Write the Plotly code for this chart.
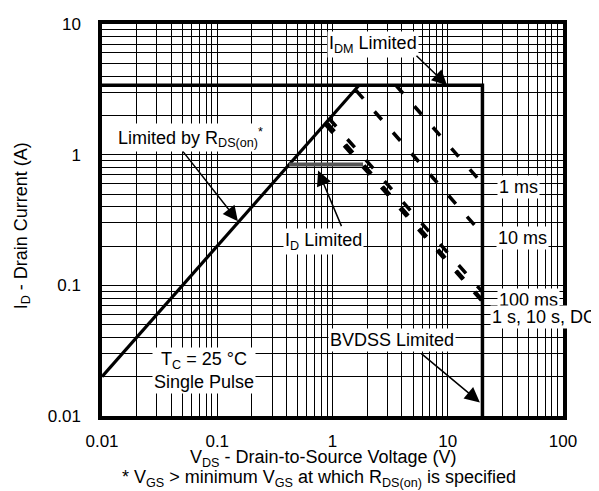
import math
import plotly.graph_objects as go

# ---- data ----
rds_x = [0.01, 1.7]
rds_y = [0.02, 3.4]

idm_x = [0.01, 20, 20]          # I_DM limit then BVDSS limit
idm_y = [3.4, 3.4, 0.01]

id_x = [0.42, 1.84]
id_y = [0.84, 0.84]

ms1_x = [3.55, 20]
ms1_y = [3.4, 0.6]
ms10_x = [1.6, 20]
ms10_y = [3.1, 0.247]
ms100_x = [0.93, 20]
ms100_y = [1.9, 0.089]
s1_x = [0.9, 20]
s1_y = [1.74, 0.077]
dc_x = [0.87, 20]
dc_y = [1.70, 0.075]

x_ticks = [0.01, 0.1, 1, 10, 100]
x_ticktext = ["0.01", "0.1", "1", "10", "100"]
y_ticks = [0.01, 0.1, 1, 10]
y_ticktext = ["0.01", "0.1", "1", "10"]

# arrow targets (data coords)
arrow_x = [9.85, 0.151, 0.75, 19.0]
arrow_y = [3.4, 0.31, 0.755, 0.0127]
arrow_dx = [-32, -56, 24, -60]
arrow_dy = [-31, -71, 57, -50]

FONT = "Liberation Sans, Arial, Helvetica, sans-serif"

fig = go.Figure()

solid = dict(color="black", width=3.2)
dash = dict(color="black", width=3.5, dash="11px,17px")

fig.add_trace(go.Scatter(x=rds_x, y=rds_y, mode="lines", line=solid))
fig.add_trace(go.Scatter(x=idm_x, y=idm_y, mode="lines", line=dict(color="black", width=3.5)))
fig.add_trace(go.Scatter(x=id_x, y=id_y, mode="lines", line=dict(color="#555555", width=4)))
for xs, ys in [(ms1_x, ms1_y), (ms10_x, ms10_y), (ms100_x, ms100_y), (s1_x, s1_y), (dc_x, dc_y)]:
    fig.add_trace(go.Scatter(x=xs, y=ys, mode="lines", line=dash))

# page body has an 8px margin, so compensate
OFF = 8
PL, PR, PT, PB = 102, 563, 15, 416   # plot area in page pixels
W, H = 599 - OFF, 491 - OFF
L = PL - OFF
T = PT - OFF
R = W + OFF - PR
B = H + OFF - PB
pw = PR - PL
ph = PB - PT


def px(xp, yp):
    return (xp - PL) / pw, (PB - yp) / ph


annots = []
labels = [
    ("I<sub>DM</sub> Limited", 373, 36),
    ("Limited by R<sub>DS(on)</sub><sup>*</sup>", 190, 131),
    ("I<sub>D</sub> Limited", 323, 237),
    ("1 ms", 518, 182),
    ("10 ms", 522, 234),
    ("100 ms", 528, 297),
    ("1 s, 10 s, DC", 544, 315),
    ("BVDSS Limited", 392, 338),
    ("T<sub>C</sub> = 25 °C<br>Single Pulse", 204, 369),
]
for txt, xp, yp in labels:
    xx, yy = px(xp, yp)
    annots.append(dict(text=txt, x=xx, y=yy, xref="paper", yref="paper",
                       showarrow=False, xanchor="center", yanchor="middle",
                       bgcolor="white", borderpad=1,
                       font=dict(family=FONT, size=18, color="black")))

for ax_, ay_, dx, dy in zip(arrow_x, arrow_y, arrow_dx, arrow_dy):
    annots.append(dict(text="", x=math.log10(ax_), y=math.log10(ay_), xref="x", yref="y",
                       showarrow=True, ax=dx, ay=dy, arrowhead=2, arrowsize=2,
                       arrowwidth=1.5, arrowcolor="black"))

xx, yy = px(22, 222)
annots.append(dict(text="I<sub>D</sub> - Drain Current (A)", x=xx, y=yy, xref="paper", yref="paper",
                   textangle=-90, showarrow=False, xanchor="center", yanchor="middle",
                   font=dict(family=FONT, size=18, color="black")))
xx, yy = px(323, 459)
annots.append(dict(text="V<sub>DS</sub> - Drain-to-Source Voltage (V)", x=xx, y=yy, xref="paper", yref="paper",
                   showarrow=False, xanchor="center", yanchor="middle",
                   font=dict(family=FONT, size=18, color="black")))
xx, yy = px(319, 480)
annots.append(dict(text="* V<sub>GS</sub> > minimum V<sub>GS</sub> at which R<sub>DS(on)</sub> is specified",
                   x=xx, y=yy, xref="paper", yref="paper",
                   showarrow=False, xanchor="center", yanchor="middle",
                   font=dict(family=FONT, size=18, color="black")))

axis_common = dict(
    type="log", showgrid=True, gridcolor="black", gridwidth=1.2,
    showline=True, linecolor="black", linewidth=3.5, mirror=True,
    ticks="", zeroline=False,
    tickfont=dict(family=FONT, size=17, color="black"),
    minor=dict(dtick="D1", showgrid=True, gridcolor="black", gridwidth=1.2, ticks=""),
)

fig.update_layout(
    width=W, height=H,
    margin=dict(l=L, r=R, t=T, b=B),
    paper_bgcolor="white", plot_bgcolor="white",
    showlegend=False,
    annotations=annots,
    xaxis=dict(axis_common, range=[-2, 2], tickvals=x_ticks, ticktext=x_ticktext,
               ticklabelstandoff=7),
    yaxis=dict(axis_common, range=[-2, 1], tickvals=y_ticks, ticktext=y_ticktext,
               ticklabelstandoff=14),
)

fig.write_html("out.html")
